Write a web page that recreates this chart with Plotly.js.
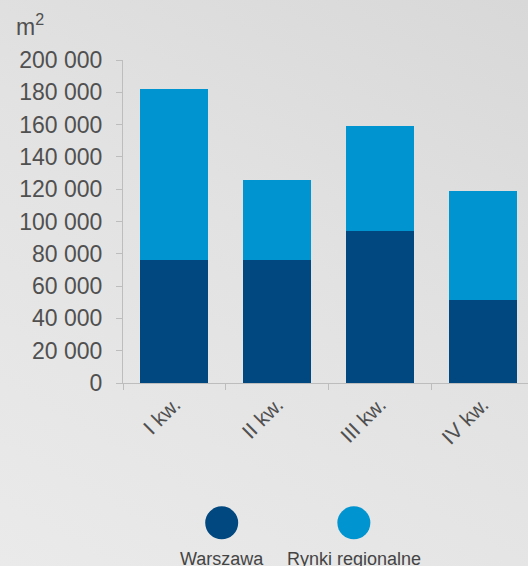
<!DOCTYPE html>
<html>
<head>
<meta charset="utf-8">
<script src="https://cdn.plot.ly/plotly-3.0.1.min.js"></script>
<style>
  html, body { margin: 0; padding: 0; width: 528px; height: 566px; overflow: hidden;
    background: linear-gradient(210deg, #d8d8d8 0%, #e2e2e2 45%, #eaeaea 100%); }
  #chart { width: 528px; height: 566px; }
</style>
</head>
<body>
<div id="chart"></div>
<script>
// Data
const categories = ["I kw.", "II kw.", "III kw.", "IV kw."];
const warszawa = [76000, 76000, 94000, 51500];
const regionalne = [106000, 50000, 65000, 67500];
const seriesNames = ["Warszawa", "Rynki regionalne"];
const yTickVals = [0, 20000, 40000, 60000, 80000, 100000, 120000, 140000, 160000, 180000, 200000];
const yTickText = ["0", "20 000", "40 000", "60 000", "80 000", "100 000", "120 000", "140 000", "160 000", "180 000", "200 000"];
const colors = ["#00487f", "#0094d0"];

const font = "Liberation Sans, Arial, sans-serif";
const textColor = "#505050";

const traces = [
  { type: "bar", x: categories, y: warszawa, name: seriesNames[0],
    marker: { color: colors[0], line: { width: 0 } }, hoverinfo: "skip" },
  { type: "bar", x: categories, y: regionalne, name: seriesNames[1],
    marker: { color: colors[1], line: { width: 0 } }, hoverinfo: "skip" }
];

const legendY = -0.433;
const legendX = [0.2437, 0.570];

const layout = {
  width: 528, height: 566,
  margin: { l: 123, r: 0, t: 60, b: 183, pad: 0 },
  paper_bgcolor: "rgba(0,0,0,0)",
  plot_bgcolor: "rgba(0,0,0,0)",
  barmode: "stack",
  bargap: 0.338,
  showlegend: false,
  font: { family: font, color: textColor },
  xaxis: {
    range: [-0.5, 3.442],
    tickson: "boundaries",
    ticks: "outside", ticklen: 6, tickcolor: "#bdbdbd",
    showline: true, linecolor: "#bdbdbd", linewidth: 1,
    showgrid: false, zeroline: false,
    tickangle: -45,
    tickfont: { family: font, size: 21, color: textColor },
    fixedrange: true
  },
  yaxis: {
    range: [0, 200000],
    tickvals: yTickVals, ticktext: yTickText,
    ticks: "outside", ticklen: 6, tickcolor: "#bdbdbd",
    showline: true, linecolor: "#bdbdbd", linewidth: 1,
    showgrid: false, zeroline: false,
    ticklabelstandoff: 9,
    tickfont: { family: font, size: 23, color: textColor },
    fixedrange: true
  },
  shapes: legendX.map((lx, i) => ({
    type: "circle", xref: "paper", yref: "paper",
    xsizemode: "pixel", ysizemode: "pixel",
    xanchor: lx, yanchor: legendY,
    x0: -16.5, x1: 16.5, y0: -16.5, y1: 16.5,
    fillcolor: colors[i], line: { width: 0 }
  })),
  annotations: [
    { xref: "paper", yref: "paper", x: (14 - 123) / 405, y: 1 + (60 - 25) / 323,
      xanchor: "left", yanchor: "middle", showarrow: false,
      text: "m<sup>2</sup>", font: { family: font, size: 23, color: textColor } }
  ].concat(legendX.map((lx, i) => ({
    xref: "paper", yref: "paper", x: lx, y: (383 - 547) / 323,
    xanchor: "center", yanchor: "top", showarrow: false,
    text: seriesNames[i], font: { family: font, size: 18, color: "#444444" }
  })))
};

Plotly.newPlot("chart", traces, layout, { staticPlot: true, displayModeBar: false });
</script>
</body>
</html>
